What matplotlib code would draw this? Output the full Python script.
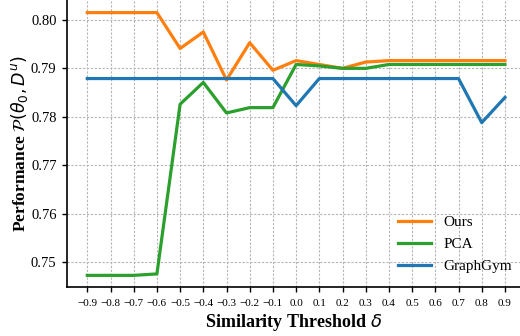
import matplotlib
matplotlib.use("Agg")
import matplotlib.pyplot as plt

thresholds = [-0.9, -0.8, -0.7, -0.6, -0.5, -0.4, -0.3, -0.2, -0.1, 0.0,
              0.1, 0.2, 0.3, 0.4, 0.5, 0.6, 0.7, 0.8, 0.9]
ours = [0.8015, 0.8015, 0.8015, 0.8015, 0.7941, 0.7975, 0.7876, 0.7953, 0.7896, 0.7916,
        0.7908, 0.7900, 0.7913, 0.7916, 0.7916, 0.7916, 0.7916, 0.7916, 0.7916]
pca = [0.7473, 0.7473, 0.7473, 0.7476, 0.7826, 0.7871, 0.7808, 0.7819, 0.7819, 0.7908,
       0.7905, 0.7900, 0.7900, 0.7908, 0.7908, 0.7908, 0.7908, 0.7908, 0.7908]
graphgym = [0.7879, 0.7879, 0.7879, 0.7879, 0.7879, 0.7879, 0.7879, 0.7879, 0.7879, 0.7823,
            0.7879, 0.7879, 0.7879, 0.7879, 0.7879, 0.7879, 0.7879, 0.7788, 0.7840]
xtick_labels = ["%.1f" % t if t >= 0 else "\u2212%.1f" % (-t) for t in thresholds]

plt.rcParams['font.family'] = ['Liberation Serif', 'DejaVu Serif']
plt.rcParams['mathtext.fontset'] = 'dejavusans'

fig = plt.figure(figsize=(5.2, 3.36), dpi=100)
ax = fig.add_axes([67/520, 49/336, 1 - 67/520, 1 - 49/336])

ax.plot(thresholds, ours, color='tab:orange', lw=2.3, label='Ours')
ax.plot(thresholds, pca, color='tab:green', lw=2.3, label='PCA')
ax.plot(thresholds, graphgym, color='tab:blue', lw=2.3, label='GraphGym')

ax.set_xlim(-0.9875, 0.965)
ax.set_ylim(0.7449, 0.8041)
ax.set_xticks(thresholds)
ax.set_xticklabels(xtick_labels, fontsize=8)
ax.set_yticks([0.75, 0.76, 0.77, 0.78, 0.79, 0.80])
ax.set_yticklabels(["0.75", "0.76", "0.77", "0.78", "0.79", "0.80"], fontsize=10.5)
ax.tick_params(axis='both', length=3.5, width=1.0, direction='out')
ax.tick_params(axis='y', pad=4)
ax.tick_params(axis='x', pad=5)
ax.grid(True, linestyle=(0, (2, 1.5)), color='#b5b5b5', linewidth=0.8)
ax.spines['top'].set_visible(False)
ax.spines['right'].set_visible(False)
ax.spines['left'].set_linewidth(1.2)
ax.spines['bottom'].set_linewidth(1.2)

ax.set_xlabel(r"Similarity Threshold $\delta$", fontsize=13, fontweight='bold', labelpad=3)
ax.set_ylabel(r"Performance $\mathcal{P}(\theta_0, D^u)$", fontsize=12.5, fontweight='bold', labelpad=1)

ax.legend(loc='lower right', frameon=False, fontsize=11, handlelength=2.2,
          bbox_to_anchor=(1.013, 0.0), labelspacing=0.55, handletextpad=0.8)

fig.savefig("out.png", dpi=100)
